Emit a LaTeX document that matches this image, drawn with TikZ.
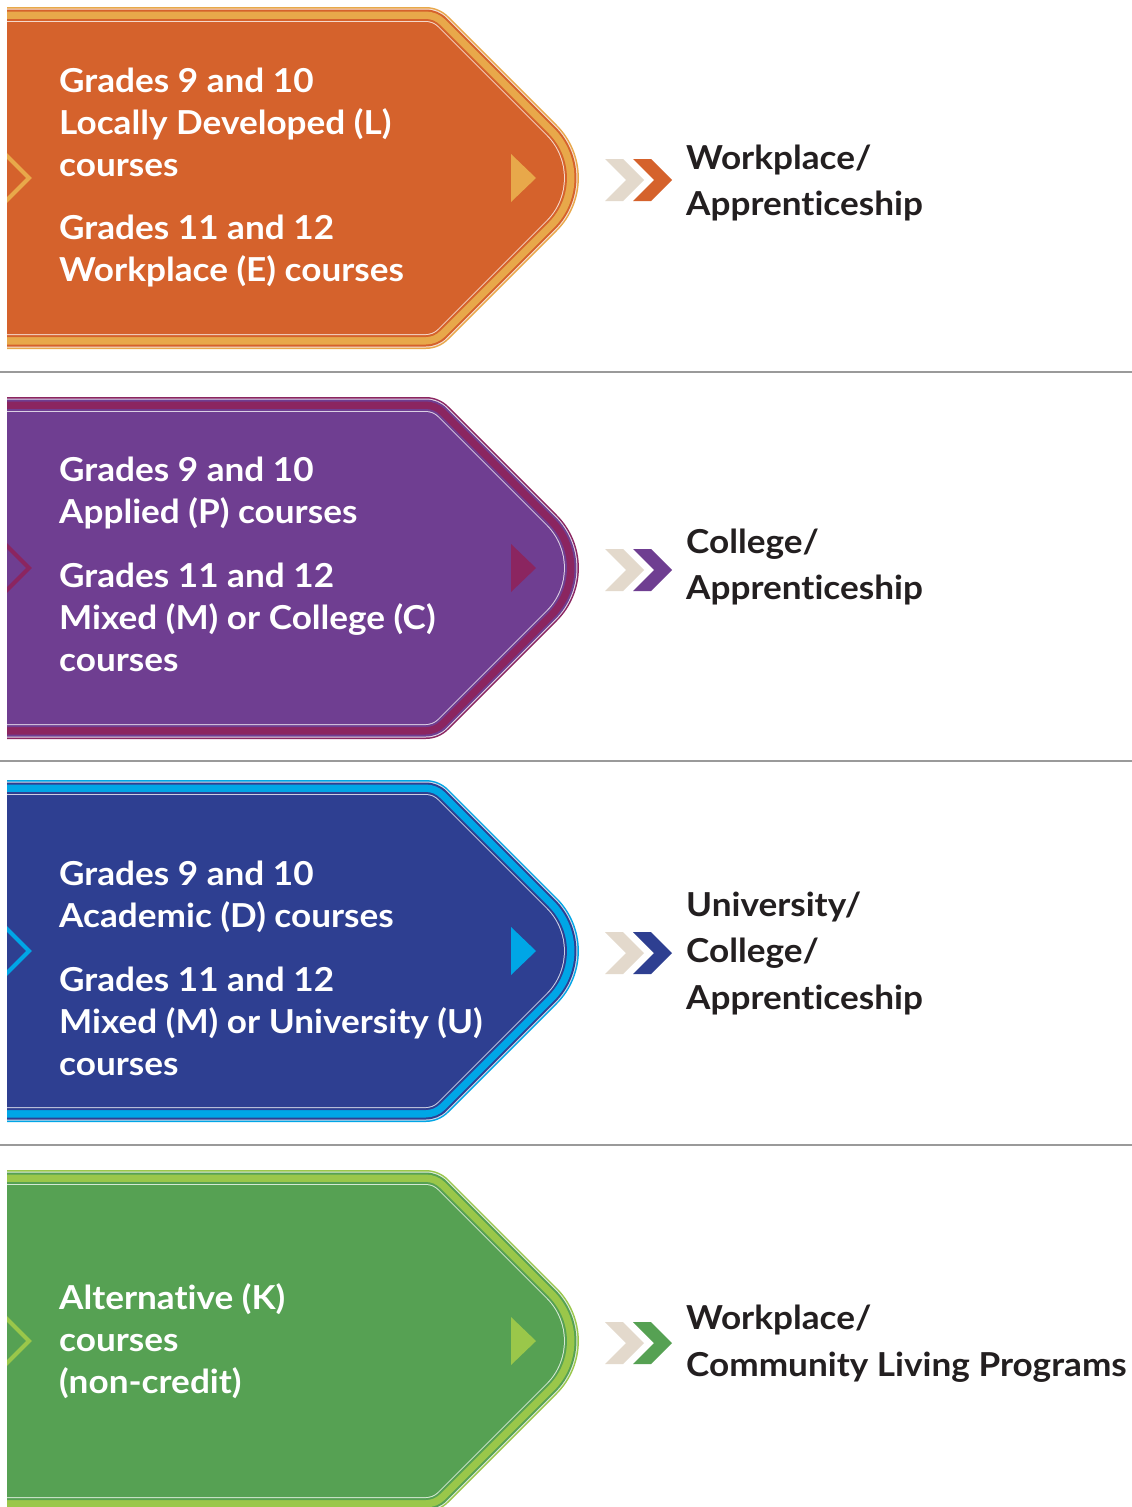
\documentclass[tikz,border=0pt]{standalone}
\usepackage{fontspec}
\setmainfont{Lato}[FakeStretch=1.065, Ligatures=NoCommon]
\definecolor{orMain}{HTML}{D5622C}
\definecolor{orAcc}{HTML}{E8A84A}
\definecolor{puMain}{HTML}{6F3E91}
\definecolor{puAcc}{HTML}{8B2560}
\definecolor{blMain}{HTML}{2E3F91}
\definecolor{blAcc}{HTML}{00A6E6}
\definecolor{grMain}{HTML}{56A153}
\definecolor{grAcc}{HTML}{9AC74A}
\definecolor{beige}{HTML}{E3D9CC}
\definecolor{darktext}{HTML}{231F20}
\definecolor{sepgray}{HTML}{9A9A9A}

\newcommand{\pwLayer}[3]{%
 \pgfmathsetmacro{\pwT}{#1+#2}%
 \pgfmathsetmacro{\pwB}{#1+342-#2}%
 \pgfmathsetmacro{\pwC}{#1+171}%
 \pgfmathsetmacro{\pwXc}{439-0.41421*#2}%
 \pgfmathsetmacro{\pwXt}{610-1.41421*#2}%
 \pgfmathsetmacro{\pwrc}{max(32-#2,0.5)}%
 \pgfmathsetmacro{\pwrt}{max(75-#2,0.5)}%
 \pgfmathsetmacro{\pwtc}{0.41421*\pwrc}%
 \pgfmathsetmacro{\pwa}{\pwXc-\pwtc}%
 \pgfmathsetmacro{\pwb}{\pwXc-\pwtc+0.6403*\pwtc}%
 \pgfmathsetmacro{\pwcc}{0.7071*(1-0.6403)*\pwtc}%
 \pgfmathsetmacro{\pwd}{0.7071*\pwtc}%
 \pgfmathsetmacro{\pwe}{0.7071*\pwrt}%
 \pgfmathsetmacro{\pwf}{0.7071*\pwrt*(1-0.5523)}%
 \fill[#3] (0,\pwT) -- (\pwa,\pwT) .. controls (\pwb,\pwT) and (\pwXc+\pwcc,\pwT+\pwcc) .. (\pwXc+\pwd,\pwT+\pwd)
   -- (\pwXt-\pwe,\pwC-\pwe) .. controls (\pwXt-\pwf,\pwC-\pwf) and (\pwXt-\pwf,\pwC+\pwf) .. (\pwXt-\pwe,\pwC+\pwe)
   -- (\pwXc+\pwd,\pwB-\pwd) .. controls (\pwXc+\pwcc,\pwB-\pwcc) and (\pwb,\pwB) .. (\pwa,\pwB)
   -- (0,\pwB) -- cycle;
}
\newcommand{\pwBox}[3]{% #1 top, #2 main, #3 accent
 \begin{scope}
  \clip (7,#1-5) rectangle (700,#1+350);
  \pwLayer{#1}{0}{#3}
  \pwLayer{#1}{1.5}{#2!20!white}
  \pwLayer{#1}{2.5}{#2}
  \pwLayer{#1}{4.5}{#3}
  \pwLayer{#1}{12}{#2}
  \pwLayer{#1}{14}{#2!25!white}
  \pwLayer{#1}{15}{#2}
  \pgfmathsetmacro{\pwC}{#1+171}
  \draw[#3, line width=4pt, miter limit=10] (0,\pwC-29) -- (29,\pwC) -- (0,\pwC+29);
  \fill[#3] (511,\pwC-24) -- (536,\pwC) -- (511,\pwC+24) -- cycle;
 \end{scope}
}
\newcommand{\pwChev}[2]{% #1 center y, #2 colour
  \fill[beige] (605,#1-21) -- (623,#1-21) -- (644,#1) -- (623,#1+21) -- (605,#1+21) -- (626,#1) -- cycle;
  \fill[#2] (633,#1-21) -- (651,#1-21) -- (672,#1) -- (651,#1+21) -- (633,#1+21) -- (654,#1) -- cycle;
}

\tikzset{
  boxtxt/.style={anchor=base west, inner sep=0pt, text=white, font=\fontsize{33}{40}\selectfont\bfseries},
  outtxt/.style={anchor=base west, inner sep=0pt, text=darktext, font=\fontsize{33}{40}\selectfont\bfseries},
  sepline/.style={draw=sepgray, line width=1.8pt}
}

\begin{document}
\begin{tikzpicture}[x=1pt, y=-1pt]
\useasboundingbox (0,0) rectangle (1132,1507);
\fill[white] (0,0) rectangle (1132,1507);
\clip (0,0) rectangle (1132,1507);

% separators
\coordinate (s1a) at (0,372); \coordinate (s1b) at (1132,372);
\coordinate (s2a) at (0,761); \coordinate (s2b) at (1132,761);
\coordinate (s3a) at (0,1145); \coordinate (s3b) at (1132,1145);
\draw[sepline] (s1a) -- (s1b);
\draw[sepline] (s2a) -- (s2b);
\draw[sepline] (s3a) -- (s3b);

% box 1
\pwBox{7}{orMain}{orAcc}
\pwChev{180}{orMain}
\node[boxtxt] (a1) at (59,92) {Grades 9 and 10};
\node[boxtxt] (a2) at (59,134) {Locally Developed (L)};
\node[boxtxt] (a3) at (59,176) {courses};
\node[boxtxt] (a4) at (59,239) {Grades 11 and 12};
\node[boxtxt] (a5) at (59,281) {Workplace (E) courses};
\node[outtxt] (ao1) at (686,169) {Workplace/};
\node[outtxt] (ao2) at (686,215) {Apprenticeship};

% box 2
\pwBox{397}{puMain}{puAcc}
\pwChev{570}{puMain}
\node[boxtxt] (b1) at (59,481) {Grades 9 and 10};
\node[boxtxt] (b2) at (59,523) {Applied (P) courses};
\node[boxtxt] (b3) at (59,587) {Grades 11 and 12};
\node[boxtxt] (b4) at (59,629) {Mixed (M) or College (C)};
\node[boxtxt] (b5) at (59,671) {courses};
\node[outtxt] (bo1) at (686,553) {College/};
\node[outtxt] (bo2) at (686,599) {Apprenticeship};

% box 3
\pwBox{780}{blMain}{blAcc}
\pwChev{953}{blMain}
\node[boxtxt] (c1) at (59,885) {Grades 9 and 10};
\node[boxtxt] (c2) at (59,927) {Academic (D) courses};
\node[boxtxt] (c3) at (59,991) {Grades 11 and 12};
\node[boxtxt] (c4) at (59,1033) {Mixed (M) or University (U)};
\node[boxtxt] (c5) at (59,1075) {courses};
\node[outtxt] (co1) at (686,916) {University/};
\node[outtxt] (co2) at (686,962) {College/};
\node[outtxt] (co3) at (686,1009) {Apprenticeship};

% box 4
\pwBox{1170}{grMain}{grAcc}
\pwChev{1343}{grMain}
\node[boxtxt] (d1) at (59,1309) {Alternative (K)};
\node[boxtxt] (d2) at (59,1351) {courses};
\node[boxtxt] (d3) at (59,1393) {(non-credit)};
\node[outtxt] (do1) at (686,1329) {Workplace/};
\node[outtxt] (do2) at (686,1376) {Community Living Programs};
\end{tikzpicture}
\end{document}
